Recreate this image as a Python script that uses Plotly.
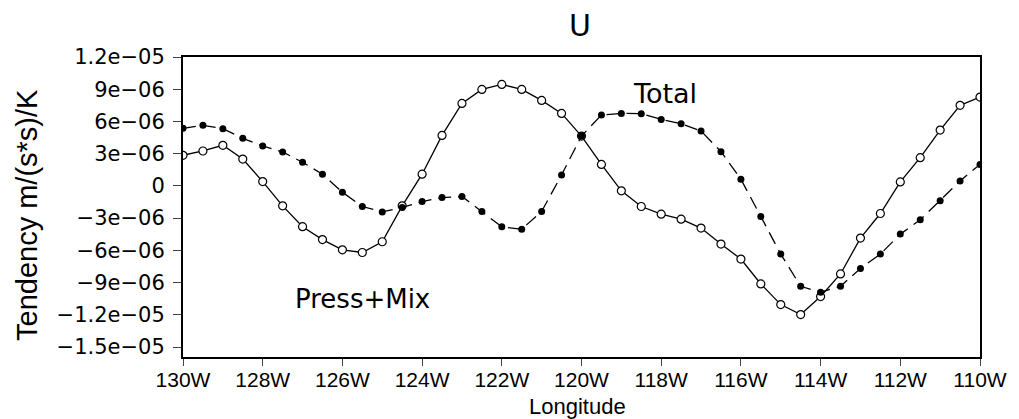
import plotly.graph_objects as go

# Longitude in degrees West
lon_w = [130.0, 129.5, 129.0, 128.5, 128.0, 127.5, 127.0, 126.5, 126.0, 125.5,
         125.0, 124.5, 124.0, 123.5, 123.0, 122.5, 122.0, 121.5, 121.0, 120.5,
         120.0, 119.5, 119.0, 118.5, 118.0, 117.5, 117.0, 116.5, 116.0, 115.5,
         115.0, 114.5, 114.0, 113.5, 113.0, 112.5, 112.0, 111.5, 111.0, 110.5,
         110.0]

# values in units of 1e-6 m/(s*s)/K
press_mix = [2.85, 3.25, 3.78, 2.5, 0.4, -1.86, -3.8, -5.0, -5.95, -6.2,
             -5.2, -1.86, 1.09, 4.7, 7.68, 8.98, 9.45, 8.98, 7.96, 6.75,
             4.64, 2.0, -0.46, -1.92, -2.63, -3.1, -3.93, -5.42, -6.81, -9.13,
             -11.05, -11.98, -10.3, -8.2, -4.86, -2.57, 0.37, 2.63, 5.2, 7.5,
             8.27]

total = [5.36, 5.64, 5.33, 4.43, 3.72, 3.16, 2.2, 1.09, -0.59, -1.92,
         -2.42, -2.0, -1.46, -1.09, -0.99, -2.38, -3.81, -4.03, -2.38, 1.02,
         4.64, 6.6, 6.75, 6.72, 6.19, 5.79, 5.11, 3.19, 0.62, -2.85,
         -6.35, -9.35, -9.9, -9.35, -7.68, -6.35, -4.49, -3.16, -1.39, 0.46,
         2.0]

scale = 1e-6
y_tick_vals = [1.2e-05, 9e-06, 6e-06, 3e-06, 0, -3e-06, -6e-06, -9e-06, -1.2e-05, -1.5e-05]
y_tick_text = ["1.2e−05", "9e−06", "6e−06", "3e−06", "0", "−3e−06", "−6e−06",
               "−9e−06", "−1.2e−05", "−1.5e−05"]
x_tick_vals = [130, 128, 126, 124, 122, 120, 118, 116, 114, 112, 110]
x_tick_text = [f"{v}W" for v in x_tick_vals]

xs = [-v for v in lon_w]

fig = go.Figure()
fig.add_trace(go.Scatter(
    x=xs, y=[v * scale for v in press_mix], mode="lines+markers",
    line=dict(color="black", width=1.3),
    marker=dict(symbol="circle", size=8, color="white",
                line=dict(color="black", width=1.2)),
    name="Press+Mix", showlegend=False))
fig.add_trace(go.Scatter(
    x=xs, y=[v * scale for v in total], mode="lines+markers",
    line=dict(color="black", width=1.3, dash="13px,7px"),
    marker=dict(symbol="circle", size=7, color="black"),
    name="Total", showlegend=False))

sans = "Liberation Sans, Arial, sans-serif"
wide = "DejaVu Sans, sans-serif"
fig.update_layout(
    width=1019, height=419,
    margin=dict(l=183, r=32, t=57, b=62),
    paper_bgcolor="white", plot_bgcolor="white",
    font=dict(family=sans, size=20, color="black"),
    xaxis=dict(range=[-130, -110], tickvals=[-v for v in x_tick_vals],
               ticktext=x_tick_text, ticks="outside", ticklen=7, tickwidth=1.3,
               tickfont=dict(family=sans, size=21), ticklabelstandoff=-4,
               showline=True, linewidth=2, linecolor="black", mirror=True,
               showgrid=False, zeroline=False),
    yaxis=dict(range=[-1.593e-05, 1.2e-05], tickvals=y_tick_vals,
               ticktext=y_tick_text, ticks="outside", ticklen=8, tickwidth=1.3,
               tickfont=dict(family=wide, size=21), ticklabelstandoff=4,
               showline=True, linewidth=2, linecolor="black", mirror=True,
               showgrid=False, zeroline=False),
)

# title
fig.add_annotation(xref="paper", yref="paper", x=0.4975, y=1, yshift=32,
                   text="U", showarrow=False, xanchor="center", yanchor="middle",
                   font=dict(family=wide, size=30))
# axis titles
fig.add_annotation(xref="paper", yref="paper", x=0.495, y=0, yshift=-49,
                   text="Longitude", showarrow=False, xanchor="center",
                   yanchor="middle", font=dict(family=sans, size=22))
fig.add_annotation(xref="paper", yref="paper", x=0, y=0.5, xshift=-156, yshift=-8,
                   text="Tendency m/(s*s)/K", showarrow=False, textangle=-90,
                   xanchor="center", yanchor="middle", font=dict(family=sans, size=29))
# series labels
fig.add_annotation(x=-117.9, y=8.6e-06, text="Total", showarrow=False,
                   font=dict(family=wide, size=27), xanchor="center", yanchor="middle")
fig.add_annotation(x=-125.5, y=-1.05e-05, text="Press+Mix", showarrow=False,
                   font=dict(family=wide, size=26), xanchor="center", yanchor="middle")

fig.write_html("out.html")
